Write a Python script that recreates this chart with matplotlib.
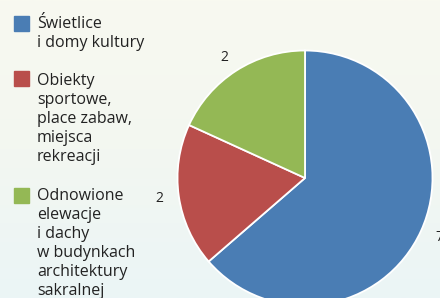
import matplotlib.pyplot as plt
import numpy as np
from matplotlib.colors import LinearSegmentedColormap
from matplotlib.patches import Rectangle

plt.rcParams['font.family'] = ['Open Sans', 'DejaVu Sans']

# data
categories = ['Świetlice\ni domy kultury',
              'Obiekty\nsportowe,\nplace zabaw,\nmiejsca\nrekreacji',
              'Odnowione\nelewacje\ni dachy\nw budynkach\narchitektury\nsakralnej']
values = [7, 2, 2]
colors = ['#4a7db4', '#b94e4b', '#94b855']

W, H = 440, 298
fig = plt.figure(figsize=(W / 100, H / 100), dpi=100)

# background gradient
bg = fig.add_axes([0, 0, 1, 1], zorder=0)
cmap = LinearSegmentedColormap.from_list('bg', ['#f8f9f0', '#f3f7f1', '#ebf5f6'])
grad = np.linspace(0, 1, 256).reshape(-1, 1)
bg.imshow(grad, aspect='auto', cmap=cmap, extent=[0, 1, 0, 1], origin='upper')
bg.axis('off')

# pie
cx, cy, r = 305, 178, 127.5
ax = fig.add_axes([(cx - r) / W, (H - cy - r) / H, 2 * r / W, 2 * r / H], zorder=1)
wedges, texts = ax.pie(values, labels=[str(v) for v in values], colors=colors,
                       startangle=90, counterclock=False, labeldistance=1.12,
                       wedgeprops=dict(edgecolor='white', linewidth=1.3),
                       textprops=dict(fontsize=10, color='#222222'))
ax.set_xlim(-1, 1)
ax.set_ylim(-1, 1)
ax.set_aspect('auto')
ax.axis('off')

# legend (one text per line, 19 px line step)
sq_tops = [16, 71, 188]
baselines = [28, 85, 200]
step = 19
for cat, col, st, bl in zip(categories, colors, sq_tops, baselines):
    fig.patches.append(Rectangle((14 / W, 1 - (st + 15) / H), 15 / W, 15 / H,
                                 transform=fig.transFigure, color=col, zorder=2))
    for i, line in enumerate(cat.split('\n')):
        fig.text(37 / W, 1 - (bl + i * step) / H, line, fontsize=11.5,
                 va='baseline', ha='left', color='#222222', zorder=3)

fig.savefig('out.png', dpi=100)
